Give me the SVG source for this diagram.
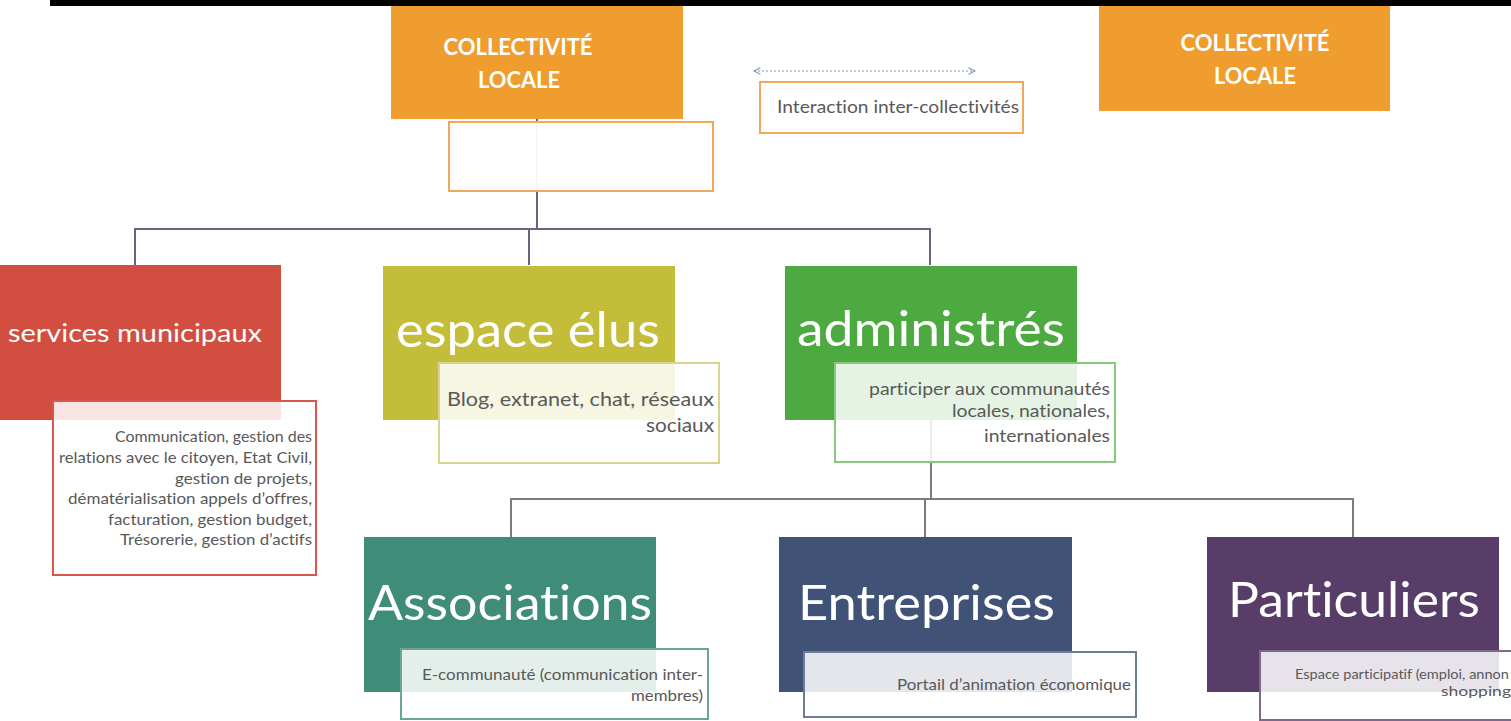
<svg xmlns="http://www.w3.org/2000/svg" width="1511" height="721" viewBox="0 0 1511 721">
<style>
text{font-variant-ligatures:none}
.t{font-family:Lato,"Open Sans","Liberation Sans",sans-serif}
.hd{font-family:Lato,"Open Sans","Liberation Sans",sans-serif;font-weight:bold;font-size:22px;fill:#fff}
.big{font-family:Lato,"Open Sans","Liberation Sans",sans-serif;fill:#fff;font-size:48px}
.mid{font-family:Lato,"Open Sans","Liberation Sans",sans-serif;fill:#fff;font-size:25px}
.sm{font-family:Lato,"Open Sans","Liberation Sans",sans-serif;fill:#595959;text-anchor:end}
.ov{fill:#fff;fill-opacity:0.86;stroke-width:2}
.c1{stroke:#6D6180;stroke-width:2;fill:none}
.c2{stroke:#7B7B7B;stroke-width:2;fill:none}
</style>
<defs>
<marker id="ah" viewBox="0 0 10 10" refX="9" refY="5" markerWidth="8" markerHeight="8" orient="auto-start-reverse" markerUnits="userSpaceOnUse">
<path d="M1,1 L9,5 L1,9" fill="none" stroke="#7F93B0" stroke-width="1.3"/>
</marker>
</defs>
<rect x="0" y="0" width="1511" height="721" fill="#fff"/>
<rect x="50" y="0" width="1461" height="6" fill="#000"/>

<g id="connectors">
<line class="c1" x1="537" y1="119" x2="537" y2="229"/>
<polyline class="c1" points="135,265 135,229 930,229 930,265"/>
<line class="c1" x1="529" y1="229" x2="529" y2="265"/>
<line class="c2" x1="931" y1="420" x2="931" y2="499"/>
<polyline class="c2" points="511,537 511,499 1353,499 1353,537"/>
<line class="c2" x1="925" y1="499" x2="925" y2="537"/>
<line x1="754" y1="71" x2="975" y2="71" stroke="#7F93B0" stroke-width="1" stroke-dasharray="2,2" marker-start="url(#ah)" marker-end="url(#ah)"/>
</g>

<g id="collectivite1">
<rect x="391" y="6" width="292" height="113" fill="#EF9D2F"/>
<text class="hd" x="518" y="55" text-anchor="middle" textLength="149" lengthAdjust="spacingAndGlyphs">COLLECTIVITÉ</text>
<text class="hd" x="519" y="88" text-anchor="middle" textLength="82" lengthAdjust="spacingAndGlyphs">LOCALE</text>
</g>
<g id="blank-box">
<rect x="449" y="122" width="264" height="69" fill="#fff" fill-opacity="0.95" stroke="#F0A95A" stroke-width="2"/>
</g>
<g id="interaction">
<rect x="760" y="82" width="263" height="51" fill="#fff" stroke="#F0A95A" stroke-width="2"/>
<text class="t" x="777" y="113" font-size="17" fill="#595959" textLength="242" lengthAdjust="spacingAndGlyphs">Interaction inter-collectivités</text>
</g>
<g id="collectivite2">
<rect x="1099" y="6" width="291" height="105" fill="#EF9D2F"/>
<text class="hd" x="1255" y="51" text-anchor="middle" textLength="149" lengthAdjust="spacingAndGlyphs">COLLECTIVITÉ</text>
<text class="hd" x="1255" y="84" text-anchor="middle" textLength="82" lengthAdjust="spacingAndGlyphs">LOCALE</text>
</g>

<g id="services">
<rect x="0" y="265" width="281" height="155" fill="#D24E40"/>
<text class="mid" x="8" y="342" textLength="254" lengthAdjust="spacingAndGlyphs">services municipaux</text>
<rect class="ov" x="53" y="401" width="263" height="174" stroke="#D9564B"/>
<text class="sm" font-size="15" x="312" y="442" textLength="197" lengthAdjust="spacingAndGlyphs">Communication, gestion des</text>
<text class="sm" font-size="15" x="312" y="463" textLength="253" lengthAdjust="spacingAndGlyphs">relations avec le citoyen, Etat Civil,</text>
<text class="sm" font-size="15" x="312" y="484" textLength="137" lengthAdjust="spacingAndGlyphs">gestion de projets,</text>
<text class="sm" font-size="15" x="312" y="504" textLength="244" lengthAdjust="spacingAndGlyphs">dématérialisation appels d’offres,</text>
<text class="sm" font-size="15" x="312" y="525" textLength="204" lengthAdjust="spacingAndGlyphs">facturation, gestion budget,</text>
<text class="sm" font-size="15" x="312" y="545" textLength="192" lengthAdjust="spacingAndGlyphs">Trésorerie, gestion d’actifs</text>
</g>

<g id="espace-elus">
<rect x="383" y="266" width="292" height="154" fill="#C4BD3A"/>
<text class="big" x="396" y="347" textLength="264" lengthAdjust="spacingAndGlyphs">espace élus</text>
<rect class="ov" x="439" y="363" width="280" height="100" stroke="#D6D48E"/>
<text class="sm" font-size="20" x="714" y="406" textLength="267" lengthAdjust="spacingAndGlyphs">Blog, extranet, chat, réseaux</text>
<text class="sm" font-size="20" x="714" y="432" textLength="68" lengthAdjust="spacingAndGlyphs">sociaux</text>
</g>

<g id="administres">
<rect x="785" y="266" width="292" height="154" fill="#4CAA40"/>
<text class="big" x="797" y="346" textLength="268" lengthAdjust="spacingAndGlyphs">administrés</text>
<rect class="ov" x="835" y="363" width="280" height="99" stroke="#86C87C"/>
<text class="sm" font-size="18" x="1110" y="395" textLength="241" lengthAdjust="spacingAndGlyphs">participer aux communautés</text>
<text class="sm" font-size="18" x="1110" y="417" textLength="158" lengthAdjust="spacingAndGlyphs">locales, nationales,</text>
<text class="sm" font-size="18" x="1110" y="442" textLength="126" lengthAdjust="spacingAndGlyphs">internationales</text>
</g>

<g id="associations">
<rect x="364" y="537" width="292" height="155" fill="#3F8C78"/>
<text class="big" x="368" y="620" font-size="53" textLength="284" lengthAdjust="spacingAndGlyphs">Associations</text>
<rect class="ov" x="401" y="649" width="307" height="70" stroke="#6AA595"/>
<text class="sm" font-size="16" x="703" y="680" textLength="281" lengthAdjust="spacingAndGlyphs">E-communauté (communication inter-</text>
<text class="sm" font-size="16" x="703" y="701" textLength="72" lengthAdjust="spacingAndGlyphs">membres)</text>
</g>

<g id="entreprises">
<rect x="779" y="537" width="293" height="155" fill="#415277"/>
<text class="big" x="798" y="620" font-size="53" textLength="257" lengthAdjust="spacingAndGlyphs">Entreprises</text>
<rect class="ov" x="804" y="652" width="332" height="65" stroke="#6F7C98"/>
<text class="sm" font-size="16" x="1131" y="690" textLength="234" lengthAdjust="spacingAndGlyphs">Portail d’animation économique</text>
</g>

<g id="particuliers">
<rect x="1207" y="537" width="292" height="155" fill="#573D68"/>
<text class="big" x="1228" y="617" font-size="53" textLength="252" lengthAdjust="spacingAndGlyphs">Particuliers</text>
<rect class="ov" x="1260" y="651" width="270" height="69" stroke="#7D6A8A"/>
<text class="t" font-size="14" fill="#595959" x="1295" y="679" textLength="214" lengthAdjust="spacingAndGlyphs">Espace participatif (emploi, annon</text>
<text class="t" font-size="14" fill="#595959" x="1441" y="696" textLength="70" lengthAdjust="spacingAndGlyphs">shopping</text>
</g>
</svg>
